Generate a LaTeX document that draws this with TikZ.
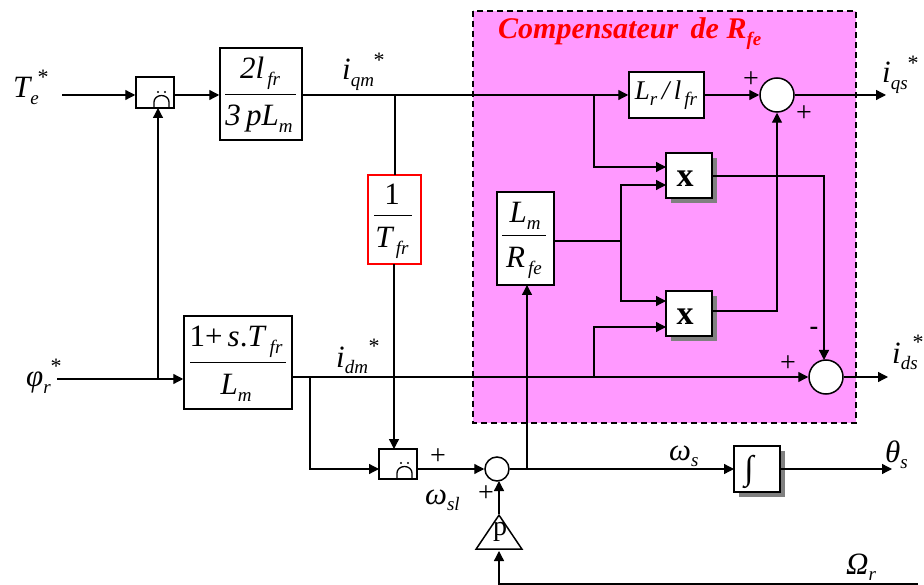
\documentclass[tikz,border=0pt]{standalone}
\usepackage{fontspec}
\setmainfont{Liberation Serif}
\usepackage{xcolor}
\definecolor{comp}{HTML}{FF99FF}
\definecolor{shadowgray}{HTML}{808080}
\usetikzlibrary{arrows.meta,shapes.geometric}
\tikzset{
  blockbox/.style={draw=black,fill=white,line width=1.5pt,inner sep=0pt},
  sumnode/.style={circle,draw=black,fill=white,line width=1.5pt,inner sep=0pt},
  sig/.style={line width=1.3pt},
  arr/.style={sig,-{Triangle[length=10pt,width=10pt]}},
  lab/.style={font=\fontsize{31}{33}\selectfont\itshape,inner sep=0pt,anchor=base west},
  ctr/.style={font=\fontsize{31}{33}\selectfont\itshape,inner sep=0pt,anchor=base},
  star/.style={font=\fontsize{22}{24}\selectfont,inner sep=0pt},
  sgn/.style={font=\fontsize{28}{30}\selectfont,inner sep=0pt},
  bigx/.style={font=\fontsize{34}{36}\selectfont\bfseries,inner sep=0pt,anchor=base},
  fracline/.style={line width=1pt}
}
\newcommand{\fr}[2]{\textit{#1}\raisebox{-.22em}{\fontsize{19}{21}\selectfont\textit{#2}}}
\newcommand{\blockat}[6]{% name, left, top, right, bottom, style
  \node[#6,minimum width=#4pt-#2pt,minimum height=#5pt-#3pt] (#1) at ({(#2+#4)/2},{(#3+#5)/2}) {};}
\newcommand{\archat}[2]{% lower left corner of the glyph
  \draw[line width=1.3pt] (#1,#2) -- (#1,#2-6) arc (180:360:7.5 and 6.5) -- (#1+15,#2);
  \fill (#1+4,#2-16) circle (1.1) (#1+11,#2-16) circle (1.1);}
\begin{document}
\begin{tikzpicture}[x=1pt,y=-1pt]
\useasboundingbox (0,0) rectangle (924,585);
% compensator frame
\fill[comp] (473,11) rectangle (856,423);
\draw[line width=1.4pt,dash pattern=on 6pt off 4pt] (473,11) rectangle (856,423);
\node[font=\fontsize{30}{32}\selectfont\bfseries\itshape,text=red,inner sep=0pt,anchor=base west] (title) at (498,39) {Compensateur\, de \fr{R}{fe}};
% shadows
\fill[shadowgray] (671,158) rectangle (717,203);
\fill[shadowgray] (671,296) rectangle (717,341);
\fill[shadowgray] (739,451) rectangle (785,497);
% blocks
\blockat{limq}{136}{77}{174}{108}{blockbox}
\blockat{gainq}{220}{48}{302}{140}{blockbox}
\blockat{gaind}{184}{316}{292}{409}{blockbox}
\blockat{tfr}{368}{175}{421}{264}{blockbox,draw=red}
\blockat{limw}{379}{449}{417}{479}{blockbox}
\blockat{lrlfr}{629}{72}{704}{118}{blockbox}
\blockat{lmrfe}{497}{192}{554}{285}{blockbox}
\blockat{multa}{666}{153}{712}{198}{blockbox}
\blockat{multb}{666}{291}{712}{336}{blockbox}
\blockat{integ}{734}{446}{780}{492}{blockbox}
\node[sumnode,minimum size=34pt] (sumq) at (777,95) {};
\node[sumnode,minimum size=34pt] (sumd) at (826,377) {};
\node[sumnode,minimum size=24pt] (sumw) at (497,469) {};
\node[isosceles triangle,isosceles triangle apex angle=68,shape border rotate=90,draw,line width=1.5pt,fill=white,inner sep=0pt,minimum height=34pt,minimum width=46pt] (pole) at (499,537) {};
% block contents
\node[ctr] (t2l) at (260,79) {2\fr{l}{\,fr}};
\draw[fracline] (225,94.5) -- (296,94.5);
\node[ctr] (t3p) at (259,126) {3\,\fr{pL}{m}};
\node[ctr] (tone) at (236,347) {\upshape 1+\,\textit{s}.\fr{T}{\,fr}};
\draw[fracline] (190,362.5) -- (286,362.5);
\node[ctr] (tlm) at (236,395) {\fr{L}{m}};
\node[ctr] (tunit) at (392,205) {\upshape 1};
\draw[fracline] (374,216) -- (412,216);
\node[ctr] (ttf) at (392,248) {\fr{T}{\,fr}};
\node[ctr] (tlm2) at (525,223) {\fr{L}{m}};
\draw[fracline] (502,235.5) -- (546,235.5);
\node[ctr] (trfe) at (524,268) {\fr{R}{\,fe}};
\node[ctr] (tlr) at (666,100) {\fontsize{27}{29}\selectfont\fr{L}{r}\,/\,\fr{l}{\,fr}};
\node[bigx] (xa) at (685,187) {x};
\node[bigx] (xb) at (685,325) {x};
\node[font=\fontsize{34}{36}\selectfont,inner sep=0pt] (tint) at (749,472) {∫};
\node[font=\fontsize{28}{30}\selectfont,inner sep=0pt,anchor=base] (tp) at (500,535) {p};
\archat{154}{108}
\archat{397}{479}
% free ends and branch points
\coordinate (tein) at (62,95);
\coordinate (phiin) at (57,379);
\coordinate (qout) at (886,95);
\coordinate (dout) at (888,377);
\coordinate (thout) at (892,469);
\coordinate (omin) at (918,584);
\coordinate (phitap) at (158,379);
\coordinate (qtap) at (395,95);
\coordinate (dtap) at (310,377);
\coordinate (qcomp) at (594,95);
\coordinate (dcomp) at (594,377);
\coordinate (rfetap) at (621,241);
\coordinate (wtap) at (527,469);
% signals
\draw[arr] (tein) -- (tein-|limq.west);
\draw[arr] (tein-|limq.east) -- (tein-|gainq.west);
\draw[arr] (tein-|gainq.east) -- (tein-|lrlfr.west);
\draw[arr] (phiin) -- (phiin-|gaind.west);
\draw[arr] (phitap) -- (158,108);
\draw[arr] (sumd-|gaind.east) -- (sumd.west);
\draw[sig] (qtap) -- (395,175);
\draw[arr] (394,264) -- (394,449);
\draw[arr] (dtap) |- (379,469);
\draw[arr] (417,469) -- (sumw.west);
\draw[arr] (qcomp) |- (666,167);
\draw[arr] (dcomp) |- (666,327);
\draw[sig] (rfetap-|lmrfe.east) -- (rfetap);
\draw[arr] (rfetap) |- (666,185);
\draw[arr] (rfetap) |- (666,301);
\draw[arr] (712,311) -| (sumq.south);
\draw[arr] (712,176) -| (824,360);
\draw[arr] (sumq-|lrlfr.east) -- (sumq.west);
\draw[arr] (sumq.east) -- (qout);
\draw[arr] (sumd.east) -- (dout);
\draw[arr] (sumw.east) -- (734,469);
\draw[arr] (780,469) -- (thout);
\draw[arr] (wtap) -- (527,285);
\draw[arr] (pole.apex) -- (499,481);
\draw[arr] (omin) -| (499,551);
% labels
\node[lab] (te) at (13,98) {\fr{T}{e}};
\node[star] (tes) at (43,77) {*};
\node[lab] (phr) at (26,387) {\fr{φ}{r}};
\node[star] (phs) at (56,366) {*};
\node[lab] (iqm) at (342,80) {\fr{i}{qm}};
\node[star] (iqms) at (379,60) {*};
\node[lab] (idm) at (336,367) {\fr{i}{dm}};
\node[star] (idms) at (374,346) {*};
\node[lab] (iqs) at (882,83) {\fr{i}{qs}};
\node[star] (iqss) at (913,63) {*};
\node[lab] (ids) at (892,363) {\fr{i}{ds}};
\node[star] (idss) at (918,342) {*};
\node[lab] (wsl) at (425,504) {\fr{ω}{sl}};
\node[lab] (ws) at (669,460) {\fr{ω}{s}};
\node[lab] (th) at (885,462) {\fr{θ}{s}};
\node[lab] (omr) at (846,574) {\fr{Ω}{r}};
\node[sgn] (pa) at (438,457) {+};
\node[sgn] (pb) at (486,494) {+};
\node[sgn] (pc) at (751,80) {+};
\node[sgn] (pd) at (804,114) {+};
\node[sgn] (pe) at (788,364) {+};
\node[font=\fontsize{26}{28}\selectfont\bfseries,inner sep=0pt] (me) at (814,331) {-};
\end{tikzpicture}
\end{document}
